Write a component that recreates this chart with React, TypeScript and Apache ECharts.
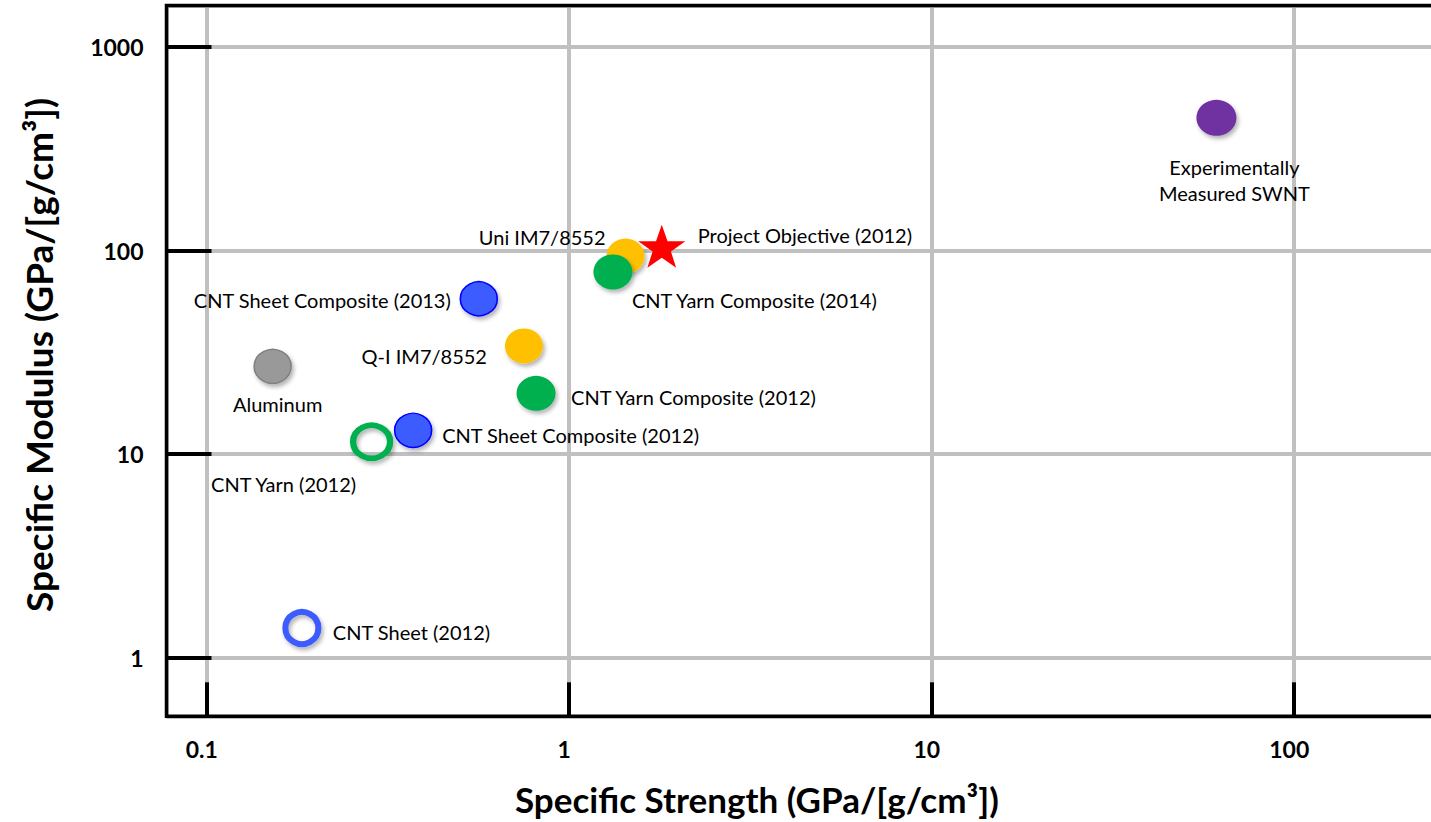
import React, { useEffect, useRef } from 'react';
import * as echarts from 'echarts';

// ---- data ----
const materials = [
  'Experimentally\nMeasured SWNT',
  'Uni IM7/8552',
  'Project Objective (2012)',
  'CNT Yarn Composite (2014)',
  'CNT Sheet Composite (2013)',
  'Q-I IM7/8552',
  'Aluminum',
  'CNT Yarn Composite (2012)',
  'CNT Sheet Composite (2012)',
  'CNT Yarn (2012)',
  'CNT Sheet (2012)',
];
const specificStrength = [61, 1.43, 1.8, 1.32, 0.563, 0.75, 0.152, 0.81, 0.371, 0.285, 0.183];
const specificModulus = [449, 94, 105, 78.5, 58, 34, 27, 19.9, 13.1, 11.5, 1.4];
const xTickLabels = ['0.1', '1', '10', '100'];
const yTickLabels = ['1', '10', '100', '1000'];

// ---- styles (not data) ----
const markerKinds = ['purple', 'yellow', 'star', 'green', 'blue', 'yellow', 'gray', 'green', 'blue', 'greenRing', 'blueRing'];
const labelLayout: [string, number, number][] = [
  ['center', 18, 62],
  ['right', -20, -19],
  ['left', 36, -11],
  ['left', 19, 28],
  ['right', -28, 1],
  ['right', -37, 10],
  ['center', 5, 38],
  ['left', 35, 4],
  ['left', 29, 5],
  ['center', -88, 42],
  ['left', 31, 4],
];

const STAR = 'path://M50,0 L61.8,35.1 L98.1,35.1 L68.8,56.8 L79.4,91.1 L50,70 L20.6,91.1 L31.2,56.8 L1.9,35.1 L38.2,35.1 Z';
const shadow = { shadowBlur: 4, shadowOffsetX: 2, shadowOffsetY: 3, shadowColor: 'rgba(0,0,0,0.3)', opacity: 1 };

function markerStyle(kind: string): any {
  switch (kind) {
    case 'purple':
      return { symbol: 'circle', symbolSize: [40, 36], itemStyle: { color: '#7030A0', ...shadow } };
    case 'yellow':
      return { symbol: 'circle', symbolSize: [38, 35], itemStyle: { color: '#FFC000', ...shadow } };
    case 'green':
      return { symbol: 'circle', symbolSize: [39, 35], itemStyle: { color: '#00B050', ...shadow } };
    case 'blue':
      return { symbol: 'circle', symbolSize: [37, 34], itemStyle: { color: '#3D5BFF', borderColor: '#0000FF', borderWidth: 1.5, ...shadow } };
    case 'gray':
      return { symbol: 'circle', symbolSize: [37, 34], itemStyle: { color: '#999999', borderColor: '#808080', borderWidth: 1.5, ...shadow } };
    case 'greenRing':
      return { symbol: 'circle', symbolSize: [37, 33], itemStyle: { color: 'rgba(255,255,255,0)', borderColor: '#00B050', borderWidth: 6, ...shadow } };
    case 'blueRing':
      return { symbol: 'circle', symbolSize: [33, 32], itemStyle: { color: 'rgba(255,255,255,0)', borderColor: '#3D5BFF', borderWidth: 6, ...shadow } };
    case 'star':
    default:
      return { symbol: STAR, symbolSize: [47, 43], itemStyle: { color: '#FF0000', opacity: 1 } };
  }
}

const FONT = 'Lato, "Open Sans", sans-serif';

export default function App() {
  const ref = useRef<HTMLDivElement>(null);
  useEffect(() => {
    if (!ref.current) return;
    const chart = echarts.init(ref.current, undefined, { renderer: 'svg' });

    const data = materials.map((name, i) => {
      const [align, dx, dy] = labelLayout[i];
      return {
        name,
        value: [specificStrength[i], specificModulus[i]],
        ...markerStyle(markerKinds[i]),
        label: {
          show: true,
          position: 'inside',
          align,
          verticalAlign: 'middle',
          offset: [dx, dy],
          formatter: name,
          color: '#000',
          fontFamily: FONT,
          fontSize: 20,
          lineHeight: 26,
        },
      };
    });

    const xFmt = (v: number) => xTickLabels[Math.round(Math.log10(v)) + 1] ?? '';
    const yFmt = (v: number) => yTickLabels[Math.round(Math.log10(v))] ?? '';

    chart.setOption({
      animation: false,
      grid: {
        left: 166.5,
        top: 5.5,
        right: -36.2,
        bottom: 105.7,
        containLabel: false,
        outerBoundsMode: 'none',
        show: true,
        borderColor: '#000',
        borderWidth: 3.5,
        backgroundColor: 'transparent',
        z: 1,
      },
      xAxis: {
        type: 'log',
        logBase: 10,
        min: 0.07745,
        max: 300,
        axisLine: { show: false },
        axisTick: { show: true, inside: true, length: 34, lineStyle: { color: '#000', width: 4 } },
        splitLine: { show: true, lineStyle: { color: '#C0C0C0', width: 4 } },
        minorTick: { show: false },
        axisLabel: {
          show: true,
          margin: 21,
          showMinLabel: false,
          showMaxLabel: false,
          formatter: xFmt,
          color: '#000',
          fontFamily: FONT,
          fontWeight: 'bold',
          fontSize: 23,
          padding: [0, 10, 0, 0],
        },
        name: 'Specific Strength (GPa/[g/cm³])',
        nameLocation: 'middle',
        nameGap: 65,
        nameTextStyle: {
          color: '#000',
          fontFamily: FONT,
          fontWeight: 'bold',
          fontSize: 35,
          padding: [0, 120, 0, 0],
        },
      },
      yAxis: {
        type: 'log',
        logBase: 10,
        min: 0.5157,
        max: 1599,
        axisLine: { show: false },
        axisTick: { show: true, inside: true, length: 45, lineStyle: { color: '#000', width: 4 } },
        splitLine: { show: true, lineStyle: { color: '#C0C0C0', width: 4 } },
        minorTick: { show: false },
        axisLabel: {
          show: true,
          margin: 23,
          showMinLabel: false,
          showMaxLabel: false,
          formatter: yFmt,
          color: '#000',
          fontFamily: FONT,
          fontWeight: 'bold',
          fontSize: 23,
        },
        name: 'Specific Modulus (GPa/[g/cm³])',
        nameLocation: 'middle',
        nameGap: 110,
        nameTextStyle: {
          color: '#000',
          fontFamily: FONT,
          fontWeight: 'bold',
          fontSize: 37,
          padding: [0, 0, 0, 12],
        },
      },
      series: [
        {
          type: 'scatter',
          z: 3,
          data,
          emphasis: { disabled: true },
        },
      ],
    });
    return () => chart.dispose();
  }, []);

  return (
    <div
      ref={ref}
      style={{ position: 'fixed', left: 0, top: 0, width: 1431, height: 822, background: '#fff' }}
    />
  );
}
